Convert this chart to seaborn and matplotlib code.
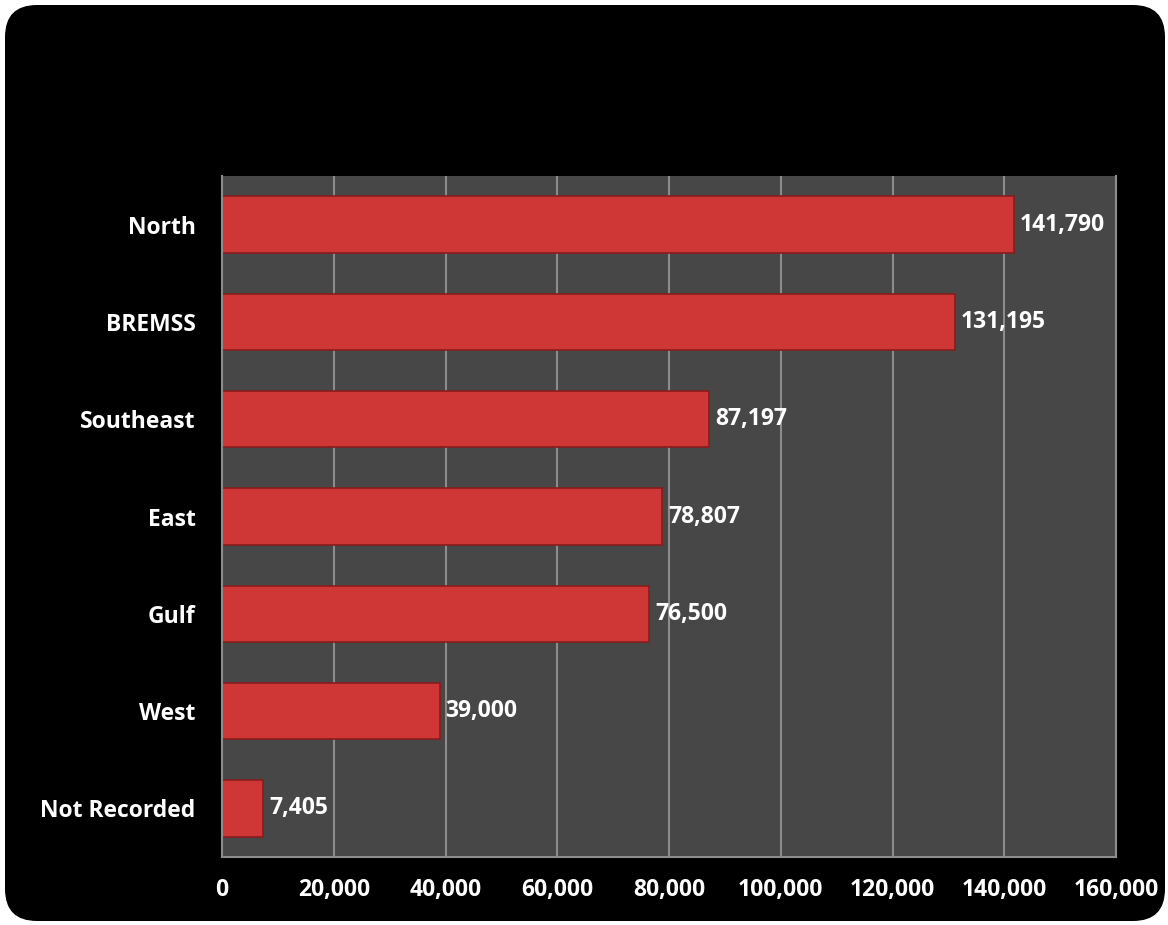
import matplotlib
matplotlib.use('Agg')
import matplotlib.pyplot as plt
from matplotlib.patches import FancyBboxPatch
import seaborn as sns
import pandas as pd

regions = ['North', 'BREMSS', 'Southeast', 'East', 'Gulf', 'West', 'Not Recorded']
counts = [141790, 131195, 87197, 78807, 76500, 39000, 7405]
xticks = [0, 20000, 40000, 60000, 80000, 100000, 120000, 140000, 160000]

df = pd.DataFrame({'Region': regions, 'Count': counts})

sns.set_style('dark')
plt.rcParams['font.family'] = ['Open Sans', 'DejaVu Sans']
plt.rcParams['font.weight'] = 'bold'

fig = plt.figure(figsize=(11.68, 9.25), dpi=100)
fig.patch.set_facecolor('white')

# black rounded panel behind everything
bg = fig.add_axes([0, 0, 1, 1], zorder=-10)
bg.set_xlim(0, 1168)
bg.set_ylim(0, 925)
bg.axis('off')
bg.add_patch(FancyBboxPatch((5, 4), 1160, 916,
                            boxstyle='round,pad=0,rounding_size=32',
                            facecolor='black', edgecolor='none'))

ax = fig.add_axes([222 / 1168, 1 - 857 / 925, (1116 - 222) / 1168, (857 - 176) / 925])
ax.set_facecolor('#474747')

sns.barplot(data=df, x='Count', y='Region', orient='h', color='#cf3636',
            edgecolor='#8a1c1c', linewidth=1.2, width=0.58, saturation=1, ax=ax)

ax.set_xlim(0, 160000)
ax.set_xticks(xticks)
ax.set_xticklabels([f'{v:,}' for v in xticks])
ax.grid(axis='x', color='#8c8c8c', linewidth=1.5)
ax.grid(axis='y', visible=False)
ax.set_axisbelow(True)
ax.set_xlabel('')
ax.set_ylabel('')

ax.spines['top'].set_visible(False)
for s in ['left', 'bottom', 'right']:
    ax.spines[s].set_color('#8c8c8c')
    ax.spines[s].set_linewidth(1.5)

ax.tick_params(axis='x', length=0, pad=15, labelsize=16.5, labelcolor='white')
ax.tick_params(axis='y', length=0, pad=19, labelsize=16.5, labelcolor='white')
for lab in ax.get_xticklabels() + ax.get_yticklabels():
    lab.set_fontweight('bold')

ax.bar_label(ax.containers[0], labels=[f'{v:,}' for v in counts], padding=4,
             color='white', fontsize=16.5, fontweight='bold')

fig.savefig('out.png', dpi=100)
